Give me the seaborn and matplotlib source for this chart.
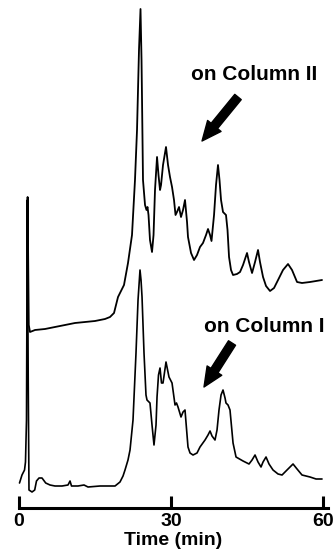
import matplotlib
matplotlib.use("Agg")
import matplotlib.pyplot as plt
import seaborn as sns
import pandas as pd

# ---- data: time (min) and detector response (arbitrary units) ----
col2_time = [1.58, 1.70, 1.93, 2.17, 3.16, 5.13, 7.10, 9.08, 11.05, 13.03,
             15.00, 16.97, 17.96, 18.75, 19.54, 20.72, 21.51, 22.30, 22.89, 23.29,
             23.68, 23.98, 24.18, 24.28, 24.47, 24.87, 25.16, 25.36, 25.56, 25.85,
             26.25, 26.55, 26.84, 27.24, 27.53, 27.83, 28.03, 28.42, 29.01, 29.41,
             29.80, 30.20, 30.59, 30.89, 31.18, 31.58, 31.97, 32.37, 32.76, 33.16,
             33.35, 33.95, 34.54, 35.13, 35.72, 36.31, 36.91, 37.30, 37.70, 37.99,
             38.49, 38.88, 39.27, 39.57, 39.87, 40.26, 40.85, 41.15, 41.45, 41.84,
             42.24, 43.02, 43.62, 44.21, 45.00, 45.39, 45.99, 46.58, 47.17, 47.56,
             48.16, 48.75, 49.54, 50.33, 51.12, 52.10, 53.09, 53.88, 54.87, 55.85,
             57.43, 58.62, 59.80]
col2_signal = [8, 156, 28, 21, 23, 24, 26, 28, 30, 31,
               32, 34, 36, 40, 56, 68, 90, 118, 173, 223,
               303, 344, 293, 253, 173, 148, 143, 146, 138, 113,
               101, 118, 163, 196, 178, 163, 168, 188, 206, 188,
               176, 166, 153, 138, 141, 146, 136, 143, 153, 131,
               116, 100, 93, 98, 106, 110, 118, 124, 118, 112,
               138, 168, 188, 173, 153, 141, 138, 123, 96, 83,
               78, 79, 81, 88, 100, 91, 80, 91, 103, 91,
               76, 67, 62, 65, 73, 83, 89, 83, 71, 70,
               71, 72, 73]

col1_time = [0.10, 0.59, 1.09, 1.28, 1.48, 1.64, 1.82, 1.97, 2.57, 3.10,
             3.45, 3.95, 4.54, 5.27, 6.12, 7.10, 8.49, 9.67, 10.07, 10.36,
             11.64, 12.83, 13.62, 15.99, 17.96, 18.95, 19.93, 20.53, 20.92, 21.51,
             21.91, 22.50, 23.09, 23.49, 23.88, 24.08, 24.28, 24.67, 25.06, 25.26,
             25.85, 26.25, 26.64, 27.04, 27.24, 27.53, 27.83, 28.12, 28.42, 29.01,
             29.60, 30.20, 30.79, 31.08, 31.38, 31.97, 32.37, 32.76, 33.35, 33.75,
             34.34, 35.13, 35.72, 36.71, 37.30, 37.70, 38.09, 38.68, 39.08, 39.47,
             39.87, 40.26, 40.66, 40.85, 41.25, 41.64, 42.24, 42.83, 44.21, 45.39,
             45.99, 46.58, 47.17, 47.76, 48.16, 48.75, 49.34, 50.13, 51.12, 51.91,
             52.89, 54.08, 54.87, 55.85, 57.43, 58.62, 59.80]
col1_signal = [25, 33, 38, 46, 88, 308, 128, 18, 16, 18,
               27, 30, 30, 25, 23, 22, 22, 23, 27, 22,
               22, 23, 21, 22, 22, 22, 26, 32, 38, 48,
               58, 88, 155, 208, 238, 228, 211, 155, 113, 108,
               105, 83, 63, 83, 111, 133, 140, 125, 125, 146,
               131, 125, 103, 105, 101, 91, 96, 98, 61, 55,
               53, 55, 61, 68, 73, 77, 72, 68, 78, 98,
               113, 118, 110, 105, 103, 98, 65, 51, 47, 44,
               48, 53, 46, 41, 46, 51, 44, 38, 34, 33,
               38, 44, 39, 33, 31, 29, 29]

x_ticks = [0, 30, 60]
x_label = "Time (min)"
label_col2 = "on Column II"
label_col1 = "on Column I"

# ---- styling constants ----
OFFSET_COL2 = 155
FONT = ["Liberation Sans", "DejaVu Sans"]

assert len(col2_time) == len(col2_signal)
assert len(col1_time) == len(col1_signal)

sns.set_theme(style="white")
plt.rcParams["font.family"] = FONT
plt.rcParams["text.color"] = "black"
plt.rcParams["axes.labelcolor"] = "black"
plt.rcParams["xtick.color"] = "black"

df1 = pd.DataFrame({"t": col1_time, "s": col1_signal})
df2 = pd.DataFrame({"t": col2_time, "s": [v + OFFSET_COL2 for v in col2_signal]})

fig = plt.figure(figsize=(3.34, 5.6), dpi=100)
ax = fig.add_axes([19 / 334, 1 - 508 / 560, (328 - 19) / 334, 508 / 560])

sns.lineplot(data=df1, x="t", y="s", ax=ax, color="black", lw=1.2,
             sort=False, estimator=None, clip_on=False)
sns.lineplot(data=df2, x="t", y="s", ax=ax, color="black", lw=1.3,
             sort=False, estimator=None, clip_on=False)

ax.set_xlim(0, 60.98)
ax.set_ylim(0, 508)
ax.set_yticks([])
ax.set_xticks(x_ticks)
ax.set_xticklabels([str(v) for v in x_ticks], fontweight="bold", color="black")
ax.set_ylabel("")
ax.set_xlabel(x_label, fontsize=14, fontweight="bold", labelpad=1.5, color="black")
for side in ["left", "top", "right"]:
    ax.spines[side].set_visible(False)
ax.spines["bottom"].set_linewidth(2.2)
ax.spines["bottom"].set_color("black")
ax.tick_params(axis="x", direction="in", length=8.5, width=2.2, pad=3.5,
               labelsize=14, colors="black", bottom=True)

# annotations
ax.text(46.48, 428, label_col2, fontsize=15, fontweight="bold",
        ha="center", va="baseline", color="black")
ax.text(48.35, 176, label_col1, fontsize=15, fontweight="bold",
        ha="center", va="baseline", color="black")
arrow_style = "simple,head_length=1.4,head_width=1.25,tail_width=0.6"
ax.annotate("", xy=(36.12, 367), xytext=(43.22, 411),
            arrowprops=dict(arrowstyle=arrow_style, color="black",
                            mutation_scale=10, shrinkA=0, shrinkB=0))
ax.annotate("", xy=(36.51, 121), xytext=(42.04, 165),
            arrowprops=dict(arrowstyle=arrow_style, color="black",
                            mutation_scale=10, shrinkA=0, shrinkB=0))

fig.savefig("out.png", dpi=100)
